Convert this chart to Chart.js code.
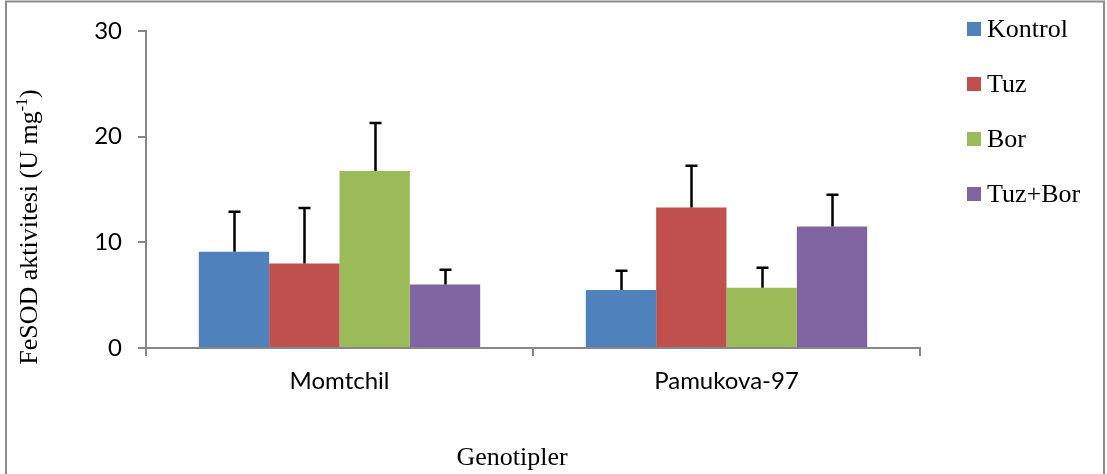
<!DOCTYPE html>
<html>
<head>
<meta charset="utf-8">
<script src="https://cdn.jsdelivr.net/npm/chart.js@4/dist/chart.umd.min.js"></script>
<style>
  html, body { margin: 0; padding: 0; background: #fff; }
  #wrap { width: 1107px; height: 474px; }
</style>
</head>
<body>
<div id="wrap"><canvas id="c" width="1107" height="474"></canvas></div>
<script>
// FeSOD activity per genotype and treatment (mean, upper error)
const genotypes = ['Momtchil', 'Pamukova-97'];
const treatments = ['Kontrol', 'Tuz', 'Bor', 'Tuz+Bor'];
const kontrol = [9.1, 5.5];
const tuz = [8.0, 13.3];
const bor = [16.75, 5.7];
const tuzBor = [6.0, 11.5];
const kontrolErr = [3.8, 1.8];
const tuzErr = [5.25, 3.95];
const borErr = [4.55, 1.9];
const tuzBorErr = [1.4, 3.0];
const yTicks = [0, 10, 20, 30];
const colors = ['#4F81BD', '#C0504D', '#9BBB59', '#8064A2'];

const seriesValues = [kontrol, tuz, bor, tuzBor];
const seriesErrors = [kontrolErr, tuzErr, borErr, tuzBorErr];

const SERIF = '"Liberation Serif", "Times New Roman", serif';
const SANS = 'Lato, "Open Sans", sans-serif';
const AXIS_GREY = '#868686';

// White page with a grey frame around the chart
const framePlugin = {
  id: 'frame',
  beforeDraw(chart) {
    const ctx = chart.ctx;
    ctx.save();
    ctx.fillStyle = '#fff';
    ctx.fillRect(0, 0, chart.width, chart.height);
    ctx.strokeStyle = '#8c8c8c';
    ctx.lineWidth = 2;
    ctx.strokeRect(6, 1.5, 1098, 490);
    ctx.restore();
  }
};

// Upward error bars drawn from each bar top
const errorBarPlugin = {
  id: 'errorBars',
  afterDatasetsDraw(chart) {
    const ctx = chart.ctx;
    const y = chart.scales.y;
    ctx.save();
    ctx.strokeStyle = '#000';
    ctx.lineWidth = 2.5;
    chart.data.datasets.forEach((ds, di) => {
      const meta = chart.getDatasetMeta(di);
      meta.data.forEach((bar, i) => {
        const v = ds.data[i];
        const top = y.getPixelForValue(v + ds.errors[i]);
        const x = Math.round(bar.x) + 0.5;
        ctx.beginPath();
        ctx.moveTo(x, bar.y);
        ctx.lineTo(x, top);
        ctx.moveTo(x - 6, top);
        ctx.lineTo(x + 6, top);
        ctx.stroke();
      });
    });
    ctx.restore();
  }
};

// Axis titles and legend in serif type
const labelsPlugin = {
  id: 'labels',
  afterDraw(chart) {
    const ctx = chart.ctx;
    ctx.save();
    ctx.fillStyle = '#000';

    // x axis title
    ctx.font = '26px ' + SERIF;
    ctx.textAlign = 'center';
    ctx.textBaseline = 'alphabetic';
    ctx.fillText('Genotipler', 512, 465);

    // y axis title with superscript unit
    const main = 'FeSOD aktivitesi (U mg';
    const sup = '-1';
    const tail = ')';
    ctx.font = '26px ' + SERIF;
    const wMain = ctx.measureText(main).width;
    const wTail = ctx.measureText(tail).width;
    ctx.font = '16px ' + SERIF;
    const wSup = ctx.measureText(sup).width;
    const total = wMain + wSup + wTail;
    ctx.translate(37, 227);
    ctx.rotate(-Math.PI / 2);
    ctx.textAlign = 'left';
    let x0 = -total / 2;
    ctx.font = '26px ' + SERIF;
    ctx.fillText(main, x0, 0);
    ctx.font = '16px ' + SERIF;
    ctx.fillText(sup, x0 + wMain, -10);
    ctx.font = '26px ' + SERIF;
    ctx.fillText(tail, x0 + wMain + wSup, 0);
    ctx.setTransform(1, 0, 0, 1, 0, 0);

    // legend
    ctx.font = '26px ' + SERIF;
    ctx.textAlign = 'left';
    ctx.textBaseline = 'middle';
    chart.data.datasets.forEach((ds, i) => {
      const cy = 29 + i * 55;
      ctx.fillStyle = ds.backgroundColor;
      ctx.fillRect(967, cy - 7, 14, 14);
      ctx.fillStyle = '#000';
      ctx.fillText(ds.label, 987, cy + 1);
    });
    ctx.restore();
  }
};

const datasets = treatments.map((name, i) => ({
  label: name,
  data: seriesValues[i],
  errors: seriesErrors[i],
  backgroundColor: colors[i],
  borderWidth: 0,
  categoryPercentage: 0.727,
  barPercentage: 1.0
}));

new Chart(document.getElementById('c'), {
  type: 'bar',
  data: { labels: genotypes, datasets },
  options: {
    responsive: false,
    devicePixelRatio: 1,
    animation: false,
    layout: { padding: { left: 0, top: 31, right: 187, bottom: 0 } },
    plugins: { legend: { display: false }, tooltip: { enabled: false } },
    scales: {
      x: {
        afterFit(scale) { scale.height = 126; },
        grid: { display: true, drawOnChartArea: false, drawTicks: true, tickLength: 8, color: AXIS_GREY, lineWidth: 2, offset: true },
        border: { display: true, color: AXIS_GREY, width: 2 },
        ticks: { color: '#000', font: { family: SANS, size: 24 }, padding: 11 }
      },
      y: {
        min: 0,
        max: 30,
        afterFit(scale) { scale.width = 146; },
        afterBuildTicks(scale) { scale.ticks = yTicks.map(v => ({ value: v })); },
        grid: { display: true, drawOnChartArea: false, drawTicks: true, tickLength: 8, color: AXIS_GREY, lineWidth: 2 },
        border: { display: true, color: AXIS_GREY, width: 2 },
        ticks: { color: '#000', font: { family: SANS, size: 24 }, padding: 16 }
      }
    }
  },
  plugins: [framePlugin, errorBarPlugin, labelsPlugin]
});
</script>
</body>
</html>
